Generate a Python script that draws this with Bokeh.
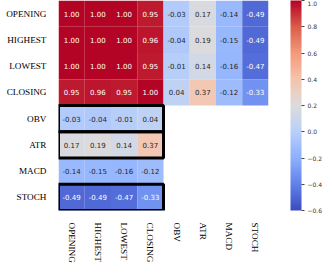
import numpy as np
from bokeh.plotting import figure
from bokeh.models import ColumnDataSource, LinearColorMapper, ColorBar, FixedTicker, Range1d
from bokeh.embed import file_html
from bokeh.resources import INLINE
from bokeh.core.properties import value

labels = ["OPENING", "HIGHEST", "LOWEST", "CLOSING", "OBV", "ATR", "MACD", "STOCH"]
corr_opening = [1.00, 1.00, 1.00, 0.95, -0.03, 0.17, -0.14, -0.49]
corr_highest = [1.00, 1.00, 1.00, 0.96, -0.04, 0.19, -0.15, -0.49]
corr_lowest = [1.00, 1.00, 1.00, 0.95, -0.01, 0.14, -0.16, -0.47]
corr_closing = [0.95, 0.96, 0.95, 1.00, 0.04, 0.37, -0.12, -0.33]
corr_obv = [-0.03, -0.04, -0.01, 0.04]
corr_atr = [0.17, 0.19, 0.14, 0.37]
corr_macd = [-0.14, -0.15, -0.16, -0.12]
corr_stoch = [-0.49, -0.49, -0.47, -0.33]
rows = [corr_opening, corr_highest, corr_lowest, corr_closing,
        corr_obv, corr_atr, corr_macd, corr_stoch]
highlight_rows = ["OBV", "ATR", "STOCH"]
highlight_cols = ["OPENING", "HIGHEST", "LOWEST", "CLOSING"]
cbar_ticks = [-0.6, -0.4, -0.2, 0.0, 0.2, 0.4, 0.6, 0.8, 1.0]
cbar_labels = ["\u22120.6", "\u22120.4", "\u22120.2", "0.0", "0.2", "0.4", "0.6", "0.8", "1.0"]
vmin, vmax = -0.6, 1.0

# coolwarm-like palette
anchors = ["#3b4cc0", "#6282ea", "#8db0fe", "#b9d0f9", "#dddcdc",
           "#f5c4ac", "#f49a7b", "#dc5d4a", "#b40426"]
anc = np.array([[int(h[i:i + 2], 16) for i in (1, 3, 5)] for h in anchors], float)
pos = np.linspace(0, 1, len(anchors))
tt = np.linspace(0, 1, 256)
pal_rgb = np.stack([np.interp(tt, pos, anc[:, k]) for k in range(3)], axis=1)
palette = ["#%02x%02x%02x" % tuple(int(round(c)) for c in rgb) for rgb in pal_rgb]


def lum(rgb):
    c = np.array(rgb) / 255.0
    c = np.where(c <= 0.03928, c / 12.92, ((c + 0.055) / 1.055) ** 2.4)
    return 0.2126 * c[0] + 0.7152 * c[1] + 0.0722 * c[2]


xs, ys, vals, txt, tcol = [], [], [], [], []
for i, r in enumerate(rows):
    for j, v in enumerate(r):
        xs.append(j + 0.5)
        ys.append(i + 0.5)
        vals.append(v)
        txt.append("%.2f" % v)
        idx = int(round((v - vmin) / (vmax - vmin) * 255))
        idx = max(0, min(255, idx))
        tcol.append("#262626" if lum(pal_rgb[idx]) > 0.408 else "#ffffff")

src = ColumnDataSource(dict(x=xs, y=ys, v=vals, t=txt, c=tcol))
mapper = LinearColorMapper(palette=palette, low=vmin, high=vmax)

p = figure(frame_width=210, frame_height=210,
           x_range=Range1d(0, 8), y_range=Range1d(8, 0),
           output_backend="svg", toolbar_location=None,
           min_border_left=58, min_border_top=0, min_border_right=0, min_border_bottom=0)
p.outline_line_color = None
p.grid.visible = False

p.rect("x", "y", width=1, height=1, source=src,
       fill_color={"field": "v", "transform": mapper}, line_color=None)
p.text("x", "y", text="t", source=src, text_color="c",
       text_font=value("DejaVu Sans"), text_font_size="7px",
       text_align="center", text_baseline="middle")

bx, by = [], []
for r in highlight_rows:
    by.append(labels.index(r) + 0.5)
    bx.append(len(highlight_cols) / 2)
p.rect(bx, by, width=len(highlight_cols), height=1, fill_color=None,
       line_color="black", line_width=3)

for ax in (p.xaxis[0], p.yaxis[0]):
    ax.ticker = FixedTicker(ticks=[k + 0.5 for k in range(len(labels))])
    ax.major_label_overrides = {k + 0.5: lab for k, lab in enumerate(labels)}
    ax.axis_line_color = None
    ax.major_tick_line_color = None
    ax.minor_tick_line_color = None
    ax.major_label_text_font = "Times New Roman"
    ax.major_label_text_font_size = "9.2px"
    ax.major_label_text_font_style = "normal"
    ax.major_label_text_color = "black"
    ax.major_label_standoff = 6
p.xaxis.major_label_orientation = "vertical"

cb = ColorBar(color_mapper=mapper, ticker=FixedTicker(ticks=cbar_ticks),
              major_label_overrides={t: l for t, l in zip(cbar_ticks, cbar_labels)},
              width=11, height=210, padding=0, location=(22, 0),
              bar_line_color=None, border_line_color=None, background_fill_color=None,
              major_tick_in=0, major_tick_out=3, major_tick_line_color="#444444",
              minor_tick_line_color=None, label_standoff=3,
              major_label_text_font="DejaVu Sans", major_label_text_font_size="6px",
              major_label_text_color="#333333")
p.add_layout(cb, "right")

open("out.html", "w").write(file_html(p, INLINE))
